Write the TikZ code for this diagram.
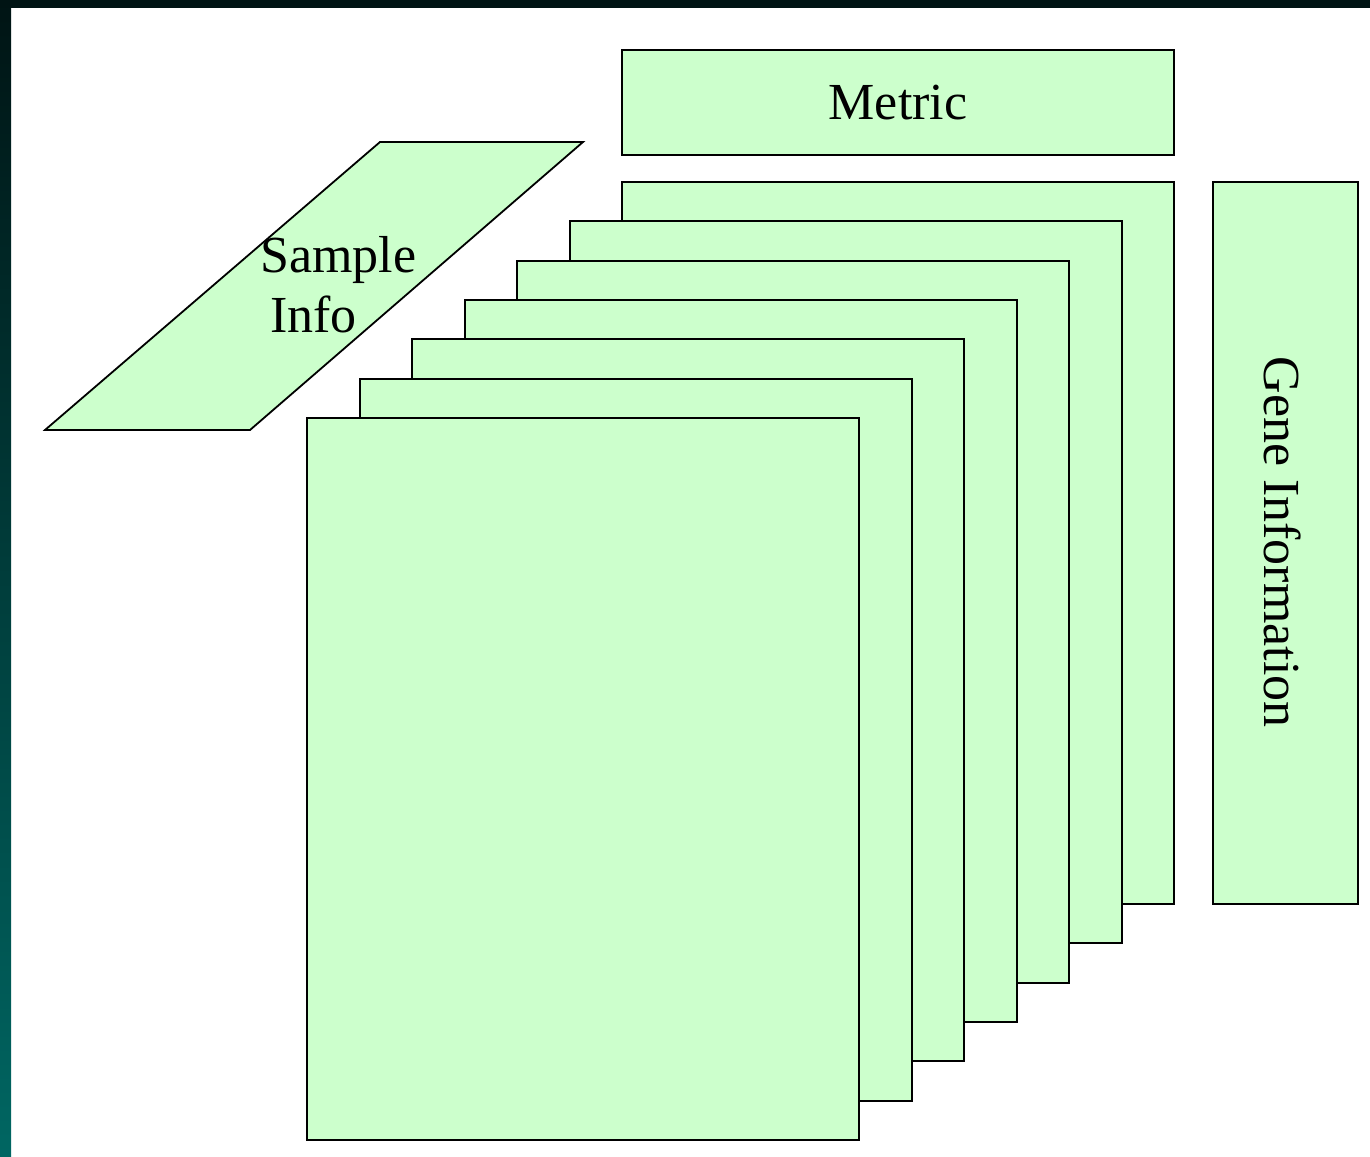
\documentclass[tikz,border=0pt]{standalone}
\usepackage{fontspec}
\setmainfont{Liberation Serif}
\definecolor{boxgreen}{HTML}{CCFFCC}
\definecolor{framedark}{HTML}{001414}
\definecolor{frameteal}{HTML}{006662}
\begin{document}
\begin{tikzpicture}[x=1pt,y=-1pt,
  box/.style={draw=black,fill=boxgreen,line width=2pt,inner sep=0pt,outer sep=0pt,anchor=north west,minimum width=552pt,minimum height=722pt},
  lbl/.style={font=\fontsize{52}{60}\selectfont,inner sep=0pt}]
\useasboundingbox (0,0) rectangle (1370,1156);
\fill[white] (0,0) rectangle (1370,1156);
\shade[top color=framedark,bottom color=frameteal] (0,0) rectangle (11,1156);
\fill[framedark] (0,0) rectangle (1370,8);
% Sample info parallelogram
\filldraw[fill=boxgreen,draw=black,line width=1.8pt,line join=miter]
  (45,430) -- (250,430) -- (583,142) -- (380,142) -- cycle;
\node[lbl,align=left,anchor=north west] (sample) at (260,236) {Sample\\\hspace*{10pt}Info};
% Metric
\node[box,minimum height=105pt] (metric) at (622,50) {};
\node[lbl] (metrictext) at (metric.center) {Metric};
% Stack of sheets
\foreach \i in {0,...,6}{
  \node[box] (s\i) at ({622-52.5*\i},{182+39.3*\i}) {};
}
% Gene information
\node[box,minimum width=145pt] (gene) at (1213,182) {};
\node[lbl,rotate=-90] (genetext) at (1283,542) {Gene Information};
\end{tikzpicture}
\end{document}
